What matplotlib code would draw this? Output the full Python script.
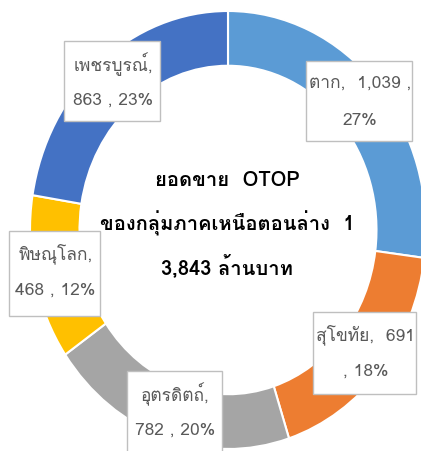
import matplotlib
matplotlib.use("Agg")
import matplotlib.pyplot as plt
from matplotlib.patches import Rectangle

plt.rcParams['font.family'] = ['Loma', 'Noto Sans Thai Looped', 'DejaVu Sans']

# data (million baht, share in %)
provinces = ['ตาก', 'สุโขทัย', 'อุตรดิตถ์', 'พิษณุโลก', 'เพชรบูรณ์']
sales = [1039, 691, 782, 468, 863]
shares = [27, 18, 20, 12, 23]
colors = ['#5B9BD5', '#ED7D31', '#A5A5A5', '#FFC000', '#4472C4']
center_lines = ['ยอดขาย  OTOP', 'ของกลุ่มภาคเหนือตอนล่าง  1', '3,843 ล้านบาท']

# where each label wraps: after the name or after the value
wrap = ['value', 'value', 'name', 'name', 'name']
# label boxes in pixels: left, top, width, height (origin top-left)
boxes = [(306, 62, 106, 80), (313, 313, 103, 82), (127, 372, 95, 84),
         (9, 232, 91, 85), (64, 42, 96, 80)]

W, H = 421, 452
fig = plt.figure(figsize=(W / 100, H / 100), dpi=100)
ax = fig.add_axes([0, 0, 1, 1])

ax.pie(sales, colors=colors, startangle=90, counterclock=False,
       wedgeprops=dict(width=0.25, edgecolor='white', linewidth=1.5))

# ring is a bit taller than wide in the reference
cx, cy, rx, ry = 228, 231, 198, 219
ax.set_aspect('auto')
ax.set_xlim(-cx / rx, (W - cx) / rx)
ax.set_ylim(-(H - cy) / ry, cy / ry)
ax.axis('off')

def px(x, y):
    return x / W, 1 - y / H

for name, val, pct, mode, (bx, by, bw, bh) in zip(provinces, sales, shares, wrap, boxes):
    if mode == 'value':
        l1, l2 = f'{name},  {val:,} ,', f'{pct}%'
        if name == 'สุโขทัย':
            l1, l2 = f'{name},  {val:,}', f', {pct}%'
    else:
        l1, l2 = f'{name},', f'{val:,} , {pct}%'
    x0, y0 = px(bx, by + bh)
    fig.patches.append(Rectangle((x0, y0), bw / W, bh / H, transform=fig.transFigure,
                                 facecolor='white', edgecolor='#BFBFBF', linewidth=1))
    xc = bx + bw / 2 + 1
    fig.text(*px(xc, by + 22), l1, ha='center', va='center', fontsize=12.5, color='#595959')
    fig.text(*px(xc, by + 59), l2, ha='center', va='center', fontsize=12.5, color='#595959')

for y, s in zip([181, 223, 266], center_lines):
    fig.text(*px(227, y), s, ha='center', va='center', fontsize=14.5,
             fontweight='bold', color='#000000')

fig.savefig('out.png', dpi=100)
